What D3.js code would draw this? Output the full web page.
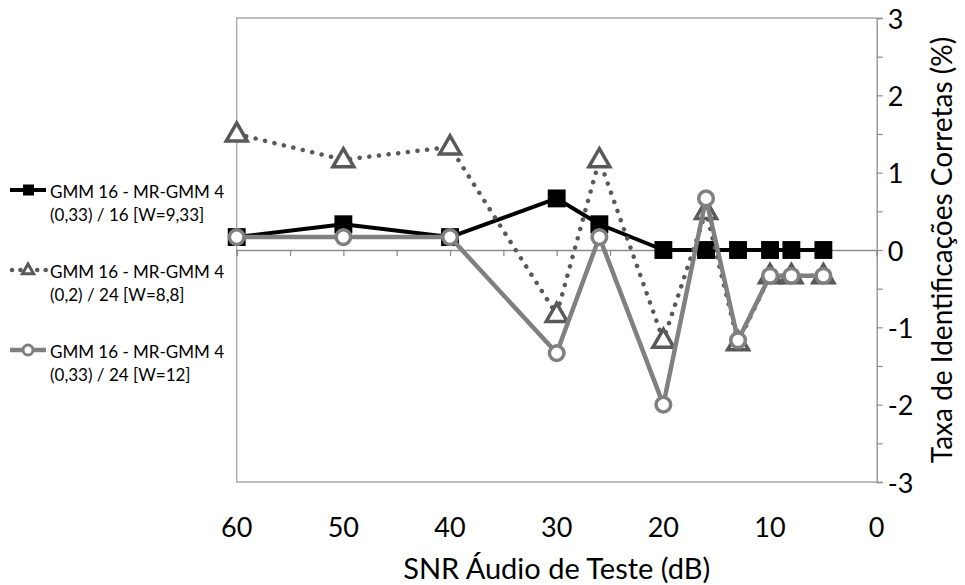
<!DOCTYPE html>
<html>
<head>
<meta charset="utf-8">
<script src="https://cdn.jsdelivr.net/npm/d3@7"></script>
<style>
html,body{margin:0;padding:0;background:#fff;}
svg{display:block;font-family:Lato,"Open Sans",sans-serif;}
</style>
</head>
<body>
<svg id="chart" width="965" height="585"></svg>
<script>
// ---- data ----
const snr = [60, 50, 40, 30, 26, 20, 16, 13, 10, 8, 5];
const serieA = [0.167, 0.333, 0.167, 0.667, 0.333, 0, 0, 0, 0, 0, 0];
const serieB = [1.5, 1.167, 1.333, -0.833, 1.167, -1.167, 0.5, -1.2, -0.333, -0.333, -0.333];
const serieC = [0.167, 0.167, 0.167, -1.333, 0.167, -2, 0.667, -1.167, -0.333, -0.333, -0.333];
const legendLine1 = ["GMM 16 - MR-GMM 4", "GMM 16 - MR-GMM 4", "GMM 16 - MR-GMM 4"];
const legendLine2 = ["(0,33) / 16 [W=9,33]", "(0,2) / 24 [W=8,8]", "(0,33) / 24 [W=12]"];
const xTickValues = [60, 50, 40, 30, 20, 10, 0];
const xMinorTicks = [60, 55, 50, 45, 40, 35, 30, 25, 20, 15, 10, 5, 0];
const yTickValues = [-3, -2, -1, 0, 1, 2, 3];
const yMinorTicks = [-3, -2.5, -2, -1.5, -1, -0.5, 0, 0.5, 1, 1.5, 2, 2.5, 3];
const xTitle = "SNR Áudio de Teste (dB)";
const yTitle = "Taxa de Identificações Corretas (%)";

// ---- layout ----
const svg = d3.select("#chart");
const L = 236.7, R = 876.7, T = 18, B = 482;
const x = d3.scaleLinear().domain([60, 0]).range([L, R]);
const y = d3.scaleLinear().domain([-3, 3]).range([B, T]);
const axisGray = "#8c8c8c";
const frameGray = "#a6a6a6";
const fontTick = 27;
const fontXTitle = 29;
const fontYTitle = 28;
const fontLegend = 17;

// frame (left, top, bottom)
svg.append("path")
  .attr("d", `M${R},${T}H${L}V${B}H${R}`)
  .attr("fill", "none").attr("stroke", frameGray).attr("stroke-width", 1.3);

// horizontal axis at y=0
const gx = svg.append("g").attr("transform", `translate(0,${y(0)})`)
  .call(d3.axisBottom(x).tickValues(xMinorTicks).tickSize(6).tickFormat(""));
gx.select(".domain").attr("stroke", axisGray).attr("stroke-width", 1.3);
gx.selectAll(".tick line").attr("stroke", axisGray).attr("stroke-width", 1.2);

// x tick labels at bottom
svg.append("g").selectAll("text").data(xTickValues).join("text")
  .attr("x", d => x(d)).attr("y", B + 44)
  .attr("text-anchor", "middle").attr("dominant-baseline", "central")
  .attr("font-size", fontTick).attr("fill", "#000").text(d => d);

// right axis
const gy = svg.append("g").attr("transform", `translate(${R},0)`)
  .call(d3.axisRight(y).tickValues(yMinorTicks).tickSize(6).tickFormat(""));
gy.select(".domain").attr("stroke", axisGray).attr("stroke-width", 1.3);
gy.selectAll(".tick line").attr("stroke", axisGray).attr("stroke-width", 1.2);
svg.append("g").selectAll("text").data(yTickValues).join("text")
  .attr("x", R + 11).attr("y", d => y(d))
  .attr("text-anchor", "start").attr("dominant-baseline", "central")
  .attr("font-size", fontTick).attr("fill", "#000").text(d => d);

// titles
svg.append("text").attr("x", (L + R) / 2).attr("y", B + 85)
  .attr("text-anchor", "middle").attr("dominant-baseline", "central")
  .attr("font-size", fontXTitle).text(xTitle);
svg.append("text")
  .attr("transform", `translate(${R + 64},${(T + B) / 2}) rotate(-90)`)
  .attr("text-anchor", "middle").attr("dominant-baseline", "central")
  .attr("font-size", fontYTitle).text(yTitle);

// ---- series ----
const ptsA = snr.map((s, i) => [s, serieA[i]]);
const ptsB = snr.map((s, i) => [s, serieB[i]]);
const ptsC = snr.map((s, i) => [s, serieC[i]]);
const line = d3.line().x(d => x(d[0])).y(d => y(d[1]));

const colA = "#000000", colB = "#595959", colC = "#808080";

// series A: black squares
svg.append("path").datum(ptsA).attr("d", line)
  .attr("fill", "none").attr("stroke", colA).attr("stroke-width", 4).attr("stroke-linejoin", "round");
svg.append("g").selectAll("path").data(ptsA).join("path")
  .attr("d", d3.symbol(d3.symbolSquare, 320))
  .attr("transform", d => `translate(${x(d[0])},${y(d[1])})`)
  .attr("fill", colA);

// series B: dotted, triangles
svg.append("path").datum(ptsB).attr("d", line)
  .attr("fill", "none").attr("stroke", colB).attr("stroke-width", 4.5)
  .attr("stroke-dasharray", "0.1 9.6").attr("stroke-linecap", "round");
const tri = d3.symbol(d3.symbolTriangle, 190);
svg.append("g").selectAll("path").data(ptsB).join("path")
  .attr("d", tri)
  .attr("transform", d => `translate(${x(d[0])},${y(d[1]) + 1})`)
  .attr("fill", "#fff").attr("stroke", colB).attr("stroke-width", 3.5).attr("stroke-linejoin", "miter");

// series C: gray circles
svg.append("path").datum(ptsC).attr("d", line)
  .attr("fill", "none").attr("stroke", colC).attr("stroke-width", 4.5).attr("stroke-linejoin", "round");
svg.append("g").selectAll("circle").data(ptsC).join("circle")
  .attr("cx", d => x(d[0])).attr("cy", d => y(d[1])).attr("r", 7.3)
  .attr("fill", "#fff").attr("stroke", colC).attr("stroke-width", 3.5);

// ---- legend ----
const legY = [190, 270, 350];
const leg = svg.append("g");
legY.forEach((ly, i) => {
  if (i === 0) {
    leg.append("line").attr("x1", 10).attr("x2", 46).attr("y1", ly).attr("y2", ly)
      .attr("stroke", colA).attr("stroke-width", 4);
    leg.append("rect").attr("x", 23).attr("y", ly - 5.5).attr("width", 11).attr("height", 11).attr("fill", colA);
  } else if (i === 1) {
    leg.append("line").attr("x1", 12).attr("x2", 46).attr("y1", ly).attr("y2", ly)
      .attr("stroke", colB).attr("stroke-width", 4.5)
      .attr("stroke-dasharray", "0.1 8.3").attr("stroke-linecap", "round");
    leg.append("path").attr("d", d3.symbol(d3.symbolTriangle, 55))
      .attr("transform", `translate(28,${ly + 0.5})`)
      .attr("fill", "#fff").attr("stroke", colB).attr("stroke-width", 3);
  } else {
    leg.append("line").attr("x1", 10).attr("x2", 46).attr("y1", ly).attr("y2", ly)
      .attr("stroke", colC).attr("stroke-width", 4.5);
    leg.append("circle").attr("cx", 28).attr("cy", ly).attr("r", 5)
      .attr("fill", "#fff").attr("stroke", colC).attr("stroke-width", 3);
  }
  leg.append("text").attr("x", 50).attr("y", ly + 1).attr("dominant-baseline", "central")
    .attr("font-size", fontLegend).text(legendLine1[i]);
  leg.append("text").attr("x", 50).attr("y", ly + 24).attr("dominant-baseline", "central")
    .attr("font-size", fontLegend).text(legendLine2[i]);
});
</script>
</body>
</html>
